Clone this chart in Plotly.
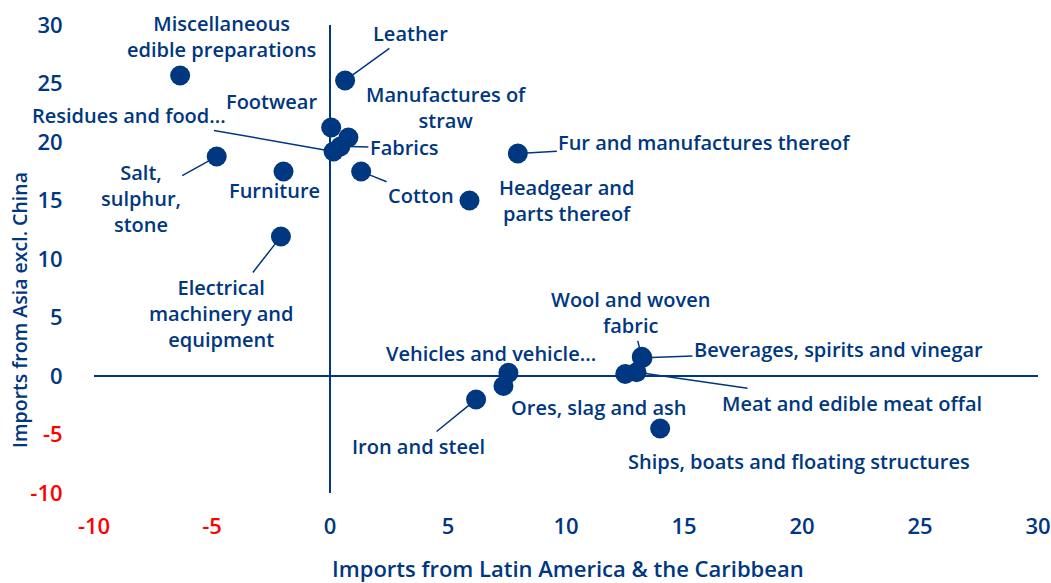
import plotly.graph_objects as go

NAVY = "#003781"
RED = "#ff0000"
FONT = "Open Sans"

# ---- data ----
categories = [
    "Miscellaneous<br>edible preparations", "Leather", "Footwear", "Residues and food...",
    "Manufactures of<br>straw", "Fabrics", "Cotton", "Salt,<br>sulphur,<br>stone", "Furniture",
    "Electrical<br>machinery and<br>equipment", "Fur and manufactures thereof",
    "Headgear and<br>parts thereof", "Wool and woven<br>fabric", "Beverages, spirits and vinegar",
    "Meat and edible meat offal", "Ores, slag and ash", "Vehicles and vehicle...", "",
    "Iron and steel", "Ships, boats and floating structures",
]
latam = [-6.35, 0.64, 0.05, 0.15, 0.78, 0.44, 1.32, -4.80, -1.97, -2.08, 7.96, 5.91,
         13.21, 13.24, 12.99, 12.51, 7.56, 7.35, 6.19, 13.99]
asia = [25.68, 25.26, 21.24, 19.19, 20.38, 19.62, 17.48, 18.76, 17.48, 11.92, 19.02, 15.00,
        1.64, 1.54, 0.32, 0.17, 0.27, -0.85, -2.01, -4.49]

# label placement (pixel offsets from point) and whether a leader line is drawn
label_dx = [41, 65, -60, -205, 98, 64, 60, -76, -9, -60, 187, 97, -11, 196, 215, -27, -17, 0, -58, 139]
label_dy = [-39, -47, -26, -36, -30, 1, 24, 42, 19, 77, -11, 0, -44, -8, 31, 33, -19, 0, 47, 33]
leader = [False, True, False, True, False, True, True, True, False, True, True, False,
          True, True, True, False, False, False, True, False]

tick_vals = [-10, -5, 0, 5, 10, 15, 20, 25, 30]
tick_text = [f"<span style='color:{RED if v < 0 else NAVY}'>{v}</span>" for v in tick_vals]

x_title = "Imports from Latin America &amp; the Caribbean"
y_title = "Imports from Asia excl. China"

LABEL_FONT = dict(family=FONT, size=20, color=NAVY, weight=600)

fig = go.Figure()
fig.add_trace(go.Scatter(
    x=latam, y=asia, mode="markers",
    marker=dict(size=20, color=NAVY, line=dict(width=0)),
    cliponaxis=False, hoverinfo="text", text=categories,
))

for name, xv, yv, dx, dy, ld in zip(categories, latam, asia, label_dx, label_dy, leader):
    if not name:
        continue
    if ld:
        fig.add_annotation(x=xv, y=yv, text=name, showarrow=True, ax=dx, ay=dy,
                           arrowhead=0, arrowwidth=1.5, arrowcolor=NAVY, standoff=9,
                           align="center", font=LABEL_FONT)
    else:
        fig.add_annotation(x=xv, y=yv, text=name, showarrow=False, xshift=dx, yshift=-dy,
                           align="center", font=LABEL_FONT)

fig.add_annotation(xref="paper", yref="paper", x=0.502, y=-0.16, text=x_title,
                   xanchor="center", yanchor="middle", showarrow=False,
                   font=dict(family=FONT, size=22, color=NAVY, weight=600))
fig.add_annotation(xref="paper", yref="paper", x=-0.079, y=0.392, text=y_title, textangle=-90,
                   xanchor="center", yanchor="middle", showarrow=False,
                   font=dict(family=FONT, size=19.5, color=NAVY, weight=600))

axis_common = dict(range=[-10, 30], showgrid=False, showline=False, zeroline=True,
                   zerolinecolor=NAVY, zerolinewidth=2, tickvals=tick_vals, ticktext=tick_text,
                   ticks="outside", ticklen=0, automargin=False,
                   tickfont=dict(family=FONT, size=22, color=NAVY, weight=600))
fig.update_xaxes(**axis_common, ticklabelstandoff=14)
fig.update_yaxes(**axis_common, ticklabelstandoff=26)

fig.update_layout(
    width=1051, height=583, margin=dict(l=94, r=13, t=25, b=90, autoexpand=False),
    plot_bgcolor="white", paper_bgcolor="white", showlegend=False,
    font=dict(family=FONT, color=NAVY),
)

fig.write_html("out.html", config={"displayModeBar": False},
               post_script="document.body.style.margin='0';")
